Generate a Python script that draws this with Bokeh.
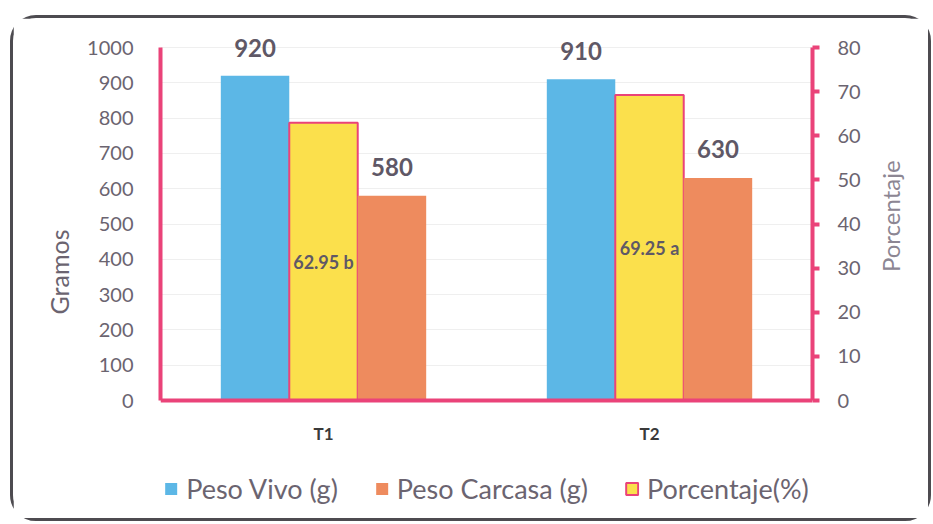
import math
from bokeh.plotting import figure
from bokeh.models import (ColumnDataSource, FactorRange, Range1d, LinearAxis,
                          Legend, LegendItem, SingleIntervalTicker, LabelSet, Span)
from bokeh.core.properties import value
from bokeh.transform import dodge
from bokeh.embed import file_html
from bokeh.resources import INLINE

categories = ["T1", "T2"]
peso_vivo = [920, 910]
peso_carcasa = [580, 630]
porcentaje = [62.95, 69.25]
pct_labels = ["62.95 b", "69.25 a"]
series_names = ["Peso Vivo (g)", "Peso Carcasa (g)", "Porcentaje(%)"]

BLUE = "#5cb7e6"
ORANGE = "#ee8b5e"
YELLOW = "#fbe04c"
PINK = "#ea4379"
TXT = "#6b6470"
LAB = "#5f5866"
FONT = "Lato"

src = ColumnDataSource(dict(
    cat=categories, vivo=peso_vivo, carc=peso_carcasa, pct=porcentaje,
    zero=[0, 0],
    pct_mid=[v / 2 for v in porcentaje], pct_lab=pct_labels,
    vivo_lab=[str(v) for v in peso_vivo], carc_lab=[str(v) for v in peso_carcasa],
))

# frame: 652 x 493 px; 0..1000 g occupies 353 px, 22 px above, 118 px below
PX = 353 / 1000
G_TOP = 1000 + 22 / PX
G_BOT = -118 / PX
P_TOP = G_TOP * 80 / 1000
P_BOT = G_BOT * 80 / 1000

p = figure(x_range=FactorRange(*categories, range_padding=0),
           y_range=Range1d(G_BOT, G_TOP),
           frame_width=652, frame_height=493,
           output_backend="svg", toolbar_location=None,
           min_border_left=147, min_border_right=116, min_border_top=7,
           min_border_bottom=0)
p.extra_y_ranges = {"pct": Range1d(P_BOT, P_TOP)}
p.outline_line_color = None
p.background_fill_color = "white"
p.border_fill_color = "white"

# grid (only over the 0..1000 span)
p.xgrid.grid_line_color = None
p.ygrid.grid_line_color = "#efefef"
p.ygrid.ticker = SingleIntervalTicker(interval=100)
p.ygrid.bounds = (0, 1000)

bw = 0.21
r1 = p.vbar(x=dodge("cat", -bw, range=p.x_range), top="vivo", width=bw,
            source=src, fill_color=BLUE, line_color=None)
r3 = p.vbar(x=dodge("cat", 0, range=p.x_range), top="pct", width=bw,
            source=src, fill_color=YELLOW, line_color=PINK, line_width=2,
            y_range_name="pct")
r2 = p.vbar(x=dodge("cat", bw, range=p.x_range), top="carc", width=bw,
            source=src, fill_color=ORANGE, line_color=None)

# baseline (category axis line) at 0
p.add_layout(Span(location=0, dimension="width", line_color=PINK, line_width=4))

# data labels
p.add_layout(LabelSet(x=dodge("cat", -bw, range=p.x_range), y="vivo", text="vivo_lab",
                      source=src, text_align="center", text_baseline="middle",
                      y_offset=28, text_font=value(FONT), text_font_style="bold",
                      text_font_size="24px", text_color=LAB))
p.add_layout(LabelSet(x=dodge("cat", bw, range=p.x_range), y="carc", text="carc_lab",
                      source=src, text_align="center", text_baseline="middle",
                      y_offset=29, text_font=value(FONT), text_font_style="bold",
                      text_font_size="24px", text_color=LAB))
p.add_layout(LabelSet(x=dodge("cat", 0, range=p.x_range), y="pct_mid", text="pct_lab",
                      source=src, y_range_name="pct", text_align="center",
                      text_baseline="middle", text_font=value(FONT),
                      text_font_style="bold", text_font_size="18px", text_color=LAB))

# category labels under the baseline
p.add_layout(LabelSet(x=dodge("cat", 0, range=p.x_range), y="zero", text="cat",
                      source=src, text_align="center", text_baseline="middle",
                      y_offset=-33, text_font=value(FONT), text_font_style="bold",
                      text_font_size="17px", text_color="#3a3a3a"))

# left axis
ya = p.yaxis[0]
ya.ticker = SingleIntervalTicker(interval=100)
ya.bounds = (0, 1000)
ya.axis_line_color = PINK
ya.axis_line_width = 4
ya.major_tick_line_color = None
ya.minor_tick_line_color = None
ya.major_label_standoff = 21
ya.major_label_text_font = FONT
ya.major_label_text_font_size = "20px"
ya.major_label_text_color = TXT
ya.axis_label = "Gramos"
ya.axis_label_text_font = FONT
ya.axis_label_text_font_size = "25px"
ya.axis_label_text_font_style = "normal"
ya.axis_label_text_color = TXT
ya.axis_label_standoff = 10

# right axis
ra = LinearAxis(y_range_name="pct", ticker=SingleIntervalTicker(interval=10))
ra.bounds = (0, 80)
ra.axis_line_color = PINK
ra.axis_line_width = 4
ra.major_tick_line_color = PINK
ra.major_tick_line_width = 4
ra.major_tick_out = 7
ra.major_tick_in = 0
ra.minor_tick_line_color = None
ra.major_label_standoff = 18
ra.major_label_text_font = FONT
ra.major_label_text_font_size = "20px"
ra.major_label_text_color = TXT
ra.axis_label = "Porcentaje"
ra.axis_label_text_font = FONT
ra.axis_label_text_font_size = "24px"
ra.axis_label_text_font_style = "normal"
ra.axis_label_text_color = "#8c8693"
ra.axis_label_standoff = 27
if "axis_label_orientation" in ra.properties():
    ra.axis_label_orientation = math.pi / 2
p.add_layout(ra, "right")

# category axis: drawn as baseline + labels above
p.xaxis.visible = False

legend = Legend(items=[LegendItem(label=series_names[0], renderers=[r1]),
                       LegendItem(label=series_names[1], renderers=[r2]),
                       LegendItem(label=series_names[2], renderers=[r3])],
                orientation="horizontal", location="bottom_center",
                glyph_width=15, glyph_height=15, label_standoff=8, spacing=36,
                label_height=30,
                label_text_font=FONT, label_text_font_size="27px",
                label_text_color=TXT, border_line_color=None,
                background_fill_alpha=0, margin=13, padding=2)
p.add_layout(legend)

p.margin = (15, 0, 0, 10)
p.styles = {"border": "3px solid #4d4b50", "border-radius": "26px"}

open("out.html", "w").write(file_html(p, INLINE))
